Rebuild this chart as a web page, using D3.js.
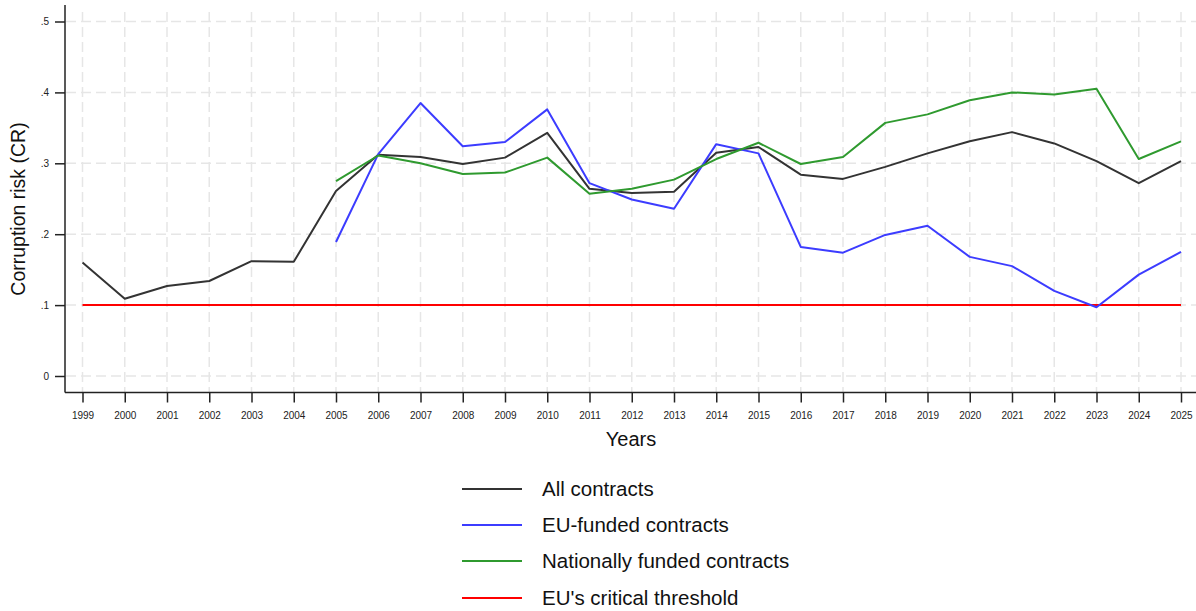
<!DOCTYPE html>
<html>
<head>
<meta charset="utf-8">
<script src="https://cdn.jsdelivr.net/npm/d3@7"></script>
<style>
  body { margin: 0; background: #fff; }
  svg { font-family: "Liberation Sans", Arial, sans-serif; display: block; }
  .grid line { stroke: #e6e6e6; stroke-width: 1.5; stroke-dasharray: 10 5; }
  .axis path, .axis line { stroke: #222; stroke-width: 1.5; }
  .axis text { fill: #222; font-size: 10px; }
</style>
</head>
<body>
<div id="chart"></div>
<script>
// Data
var years = d3.range(1999, 2026);
var allContracts = [0.160, 0.109, 0.127, 0.134, 0.162, 0.161, 0.261, 0.312, 0.309, 0.299,
                    0.308, 0.343, 0.264, 0.258, 0.260, 0.315, 0.323, 0.284, 0.278, 0.295,
                    0.314, 0.331, 0.344, 0.328, 0.303, 0.272, 0.303];
var euYears = d3.range(2005, 2026);
var euFunded = [0.189, 0.313, 0.385, 0.324, 0.330, 0.376, 0.272, 0.249, 0.236, 0.327,
                0.314, 0.182, 0.174, 0.199, 0.212, 0.168, 0.155, 0.120, 0.097, 0.143, 0.175];
var nationalFunded = [0.275, 0.311, 0.300, 0.285, 0.287, 0.308, 0.257, 0.264, 0.277, 0.306,
                      0.329, 0.299, 0.309, 0.357, 0.369, 0.389, 0.400, 0.397, 0.405, 0.306, 0.331];
var threshold = 0.1;
var yTicks = [0, 0.1, 0.2, 0.3, 0.4, 0.5];
var legendLabels = ['All contracts', 'EU-funded contracts', 'Nationally funded contracts', "EU's critical threshold"];
var colors = ['#333333', '#3c3cff', '#2f9a2f', '#ff0000'];

var width = 1196, height = 611;

var svg = d3.select('#chart').append('svg')
    .attr('width', width)
    .attr('height', height);

var x = d3.scaleLinear().domain([1999, 2025]).range([82.5, 1181]);
var y = d3.scaleLinear().domain([0, 0.5]).range([376, 21.5]);

// Grid
var grid = svg.append('g').classed('grid', true);
grid.selectAll('line.v')
    .data(years)
    .enter().append('line')
    .attr('x1', function(d) { return x(d); })
    .attr('x2', function(d) { return x(d); })
    .attr('y1', 12).attr('y2', 392);
grid.selectAll('line.h')
    .data(yTicks)
    .enter().append('line')
    .attr('x1', 66).attr('x2', 1196)
    .attr('y1', function(d) { return y(d); })
    .attr('y2', function(d) { return y(d); });

// Axes
var yAxis = svg.append('g')
    .classed('axis', true)
    .attr('transform', 'translate(65,0)')
    .call(d3.axisLeft(y).tickValues(yTicks).tickSize(10).tickPadding(6)
        .tickFormat(function(d) { return d === 0 ? '0' : d3.format('.1f')(d).replace(/^0/, ''); }));
yAxis.select('.domain').attr('d', 'M0,5V392.5');

var xAxis = svg.append('g')
    .classed('axis', true)
    .attr('transform', 'translate(0,392.5)')
    .call(d3.axisBottom(x).tickValues(years).tickSize(10).tickPadding(9).tickFormat(d3.format('d')));
xAxis.select('.domain').attr('d', 'M65,0H1196');

// Axis titles
svg.append('text')
    .attr('transform', 'translate(25,209) rotate(-90)')
    .attr('text-anchor', 'middle')
    .attr('font-size', 19.5)
    .attr('fill', '#111')
    .text('Corruption risk (CR)');

svg.append('text')
    .attr('x', 631).attr('y', 446)
    .attr('text-anchor', 'middle')
    .attr('font-size', 20)
    .attr('fill', '#111')
    .text('Years');

// Lines
var line = d3.line()
    .x(function(d) { return x(d[0]); })
    .y(function(d) { return y(d[1]); });

var series = [
    d3.zip(years, allContracts),
    d3.zip(euYears, euFunded),
    d3.zip(euYears, nationalFunded),
    [[1999, threshold], [2025, threshold]]
];
var order = [3, 0, 1, 2];

svg.append('g')
    .selectAll('path')
    .data(order)
    .enter().append('path')
    .attr('d', function(i) { return line(series[i]); })
    .attr('fill', 'none')
    .attr('stroke', function(i) { return colors[i]; })
    .attr('stroke-width', 2)
    .attr('stroke-linejoin', 'round');

// Legend
var legend = svg.append('g').attr('transform', 'translate(462,0)');
var rows = legend.selectAll('g')
    .data(legendLabels)
    .enter().append('g')
    .attr('transform', function(d, i) { return 'translate(0,' + [489, 525, 561, 598][i] + ')'; });
rows.append('line')
    .attr('x1', 0).attr('x2', 60)
    .attr('stroke', function(d, i) { return colors[i]; })
    .attr('stroke-width', 2);
rows.append('text')
    .attr('x', 80).attr('dy', '0.35em')
    .attr('font-size', 20.5)
    .attr('fill', '#111')
    .text(function(d) { return d; });
</script>
</body>
</html>
